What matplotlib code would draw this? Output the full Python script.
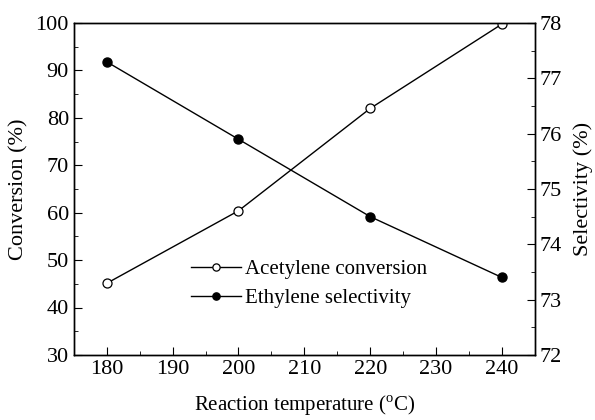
import matplotlib
matplotlib.use("Agg")
import matplotlib.pyplot as plt
from matplotlib.ticker import MultipleLocator

plt.rcParams['font.family'] = ['Liberation Serif', 'DejaVu Serif']
plt.rcParams['mathtext.fontset'] = 'custom'
plt.rcParams['mathtext.rm'] = 'Liberation Serif'

# data
temperature = [180, 200, 220, 240]
conversion = [45.1, 60.4, 82.0, 99.8]
selectivity = [77.3, 75.9, 74.5, 73.4]

fig = plt.figure(figsize=(5.95, 4.2), dpi=100)
ax = fig.add_axes([0.124, 0.155, 0.775, 0.79])
ax2 = ax.twinx()

l1, = ax.plot(temperature, conversion, color='k', lw=1, marker='o', ms=6.5,
              mfc='white', mec='k', mew=0.9, label='Acetylene conversion')
l2, = ax2.plot(temperature, selectivity, color='k', lw=1, marker='o', ms=6.5,
               mfc='k', mec='k', label='Ethylene selectivity')

ax.set_xlim(175, 245)
ax.set_ylim(30, 100)
ax2.set_ylim(72, 78)

ax.xaxis.set_major_locator(MultipleLocator(10))
ax.xaxis.set_minor_locator(MultipleLocator(5))
ax.yaxis.set_major_locator(MultipleLocator(10))
ax.yaxis.set_minor_locator(MultipleLocator(5))
ax2.yaxis.set_major_locator(MultipleLocator(1))
ax2.yaxis.set_minor_locator(MultipleLocator(0.5))

ax.tick_params(which='both', direction='in', labelsize=16, top=False, right=False)
ax.tick_params(which='major', length=6)
ax.tick_params(which='minor', length=3)
ax2.tick_params(which='both', direction='in', labelsize=16)
ax2.tick_params(which='major', length=6)
ax2.tick_params(which='minor', length=3)

ax.set_xlabel('Reaction temperature ($^{\\rm o}$C)', fontsize=15, labelpad=11)
ax.set_ylabel('Conversion (%)', fontsize=16, labelpad=5)
ax2.set_ylabel('Selectivity (%)', fontsize=16, labelpad=8)

for a in (ax, ax2):
    for s in a.spines.values():
        s.set_linewidth(1)

ax.legend(handles=[l1, l2], loc='lower center', bbox_to_anchor=(0.51, 0.085),
          frameon=False, fontsize=15, handlelength=2.4, handletextpad=0.2,
          labelspacing=0.45, markerscale=0.8)

fig.savefig('out.png', dpi=100)
